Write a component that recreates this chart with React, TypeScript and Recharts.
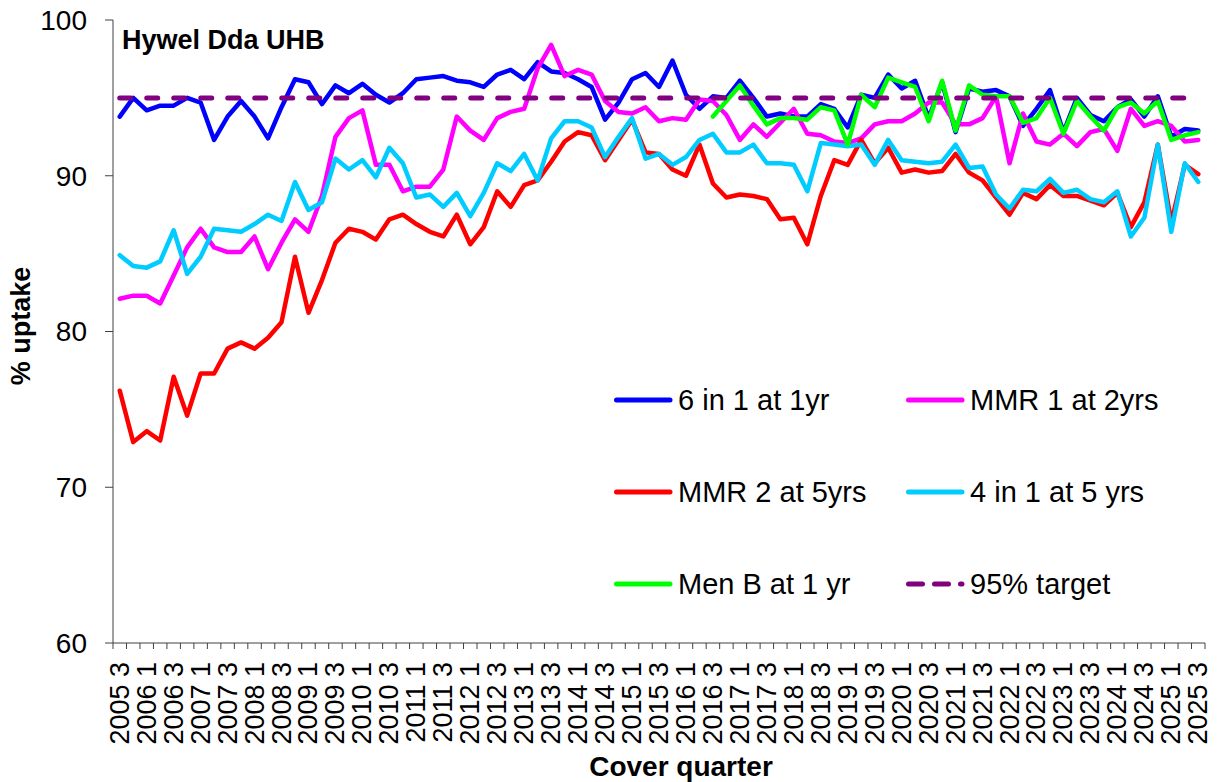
import { LineChart, Line, XAxis, YAxis } from 'recharts';

// cover quarters, 2005 Q3 .. 2025 Q3
const QUARTERS = [
  '2005 3', '2005 4',
  '2006 1', '2006 2', '2006 3', '2006 4',
  '2007 1', '2007 2', '2007 3', '2007 4',
  '2008 1', '2008 2', '2008 3', '2008 4',
  '2009 1', '2009 2', '2009 3', '2009 4',
  '2010 1', '2010 2', '2010 3', '2010 4',
  '2011 1', '2011 2', '2011 3', '2011 4',
  '2012 1', '2012 2', '2012 3', '2012 4',
  '2013 1', '2013 2', '2013 3', '2013 4',
  '2014 1', '2014 2', '2014 3', '2014 4',
  '2015 1', '2015 2', '2015 3', '2015 4',
  '2016 1', '2016 2', '2016 3', '2016 4',
  '2017 1', '2017 2', '2017 3', '2017 4',
  '2018 1', '2018 2', '2018 3', '2018 4',
  '2019 1', '2019 2', '2019 3', '2019 4',
  '2020 1', '2020 2', '2020 3', '2020 4',
  '2021 1', '2021 2', '2021 3', '2021 4',
  '2022 1', '2022 2', '2022 3', '2022 4',
  '2023 1', '2023 2', '2023 3', '2023 4',
  '2024 1', '2024 2', '2024 3', '2024 4',
  '2025 1', '2025 2', '2025 3',
];

const SIX_IN_1 = [
  93.8, 95.0, 94.2, 94.5, 94.5, 95.0, 94.7, 92.3, 93.8, 94.8,
  93.8, 92.4, 94.4, 96.2, 96.0, 94.6, 95.8, 95.3, 95.9, 95.2,
  94.7, 95.3, 96.2, 96.3, 96.4, 96.1, 96.0, 95.7, 96.5, 96.8,
  96.2, 97.3, 96.7, 96.6, 96.2, 95.7, 93.6, 94.7, 96.2, 96.6,
  95.7, 97.4, 95.2, 94.3, 95.1, 95.0, 96.1, 95.0, 93.8, 94.0,
  93.8, 93.8, 94.6, 94.3, 93.1, 95.2, 95.0, 96.5, 95.6, 96.1,
  93.7, 96.0, 92.8, 95.6, 95.4, 95.5, 95.1, 93.2, 94.3, 95.5,
  92.8, 95.0, 93.9, 93.5, 94.4, 94.9, 93.8, 95.1, 92.5, 93.0,
  92.9,
];

const MMR_1 = [
  82.1, 82.3, 82.3, 81.8, 83.6, 85.4, 86.6, 85.4, 85.1, 85.1,
  86.1, 84.0, 85.7, 87.2, 86.4, 88.7, 92.5, 93.7, 94.2, 90.7,
  90.7, 89.0, 89.3, 89.3, 90.4, 93.8, 92.9, 92.3, 93.7, 94.1,
  94.3, 96.9, 98.4, 96.4, 96.8, 96.5, 94.8, 94.1, 94.0, 94.4,
  93.5, 93.7, 93.6, 94.9, 94.8, 93.9, 92.3, 93.3, 92.5, 93.4,
  94.3, 92.7, 92.6, 92.2, 92.1, 92.4, 93.3, 93.5, 93.5, 94.0,
  94.7, 94.7, 93.3, 93.3, 93.7, 95.1, 90.8, 94.0, 92.2, 92.0,
  92.7, 91.9, 92.8, 93.0, 91.6, 94.3, 93.2, 93.5, 93.2, 92.2,
  92.3,
];

const MMR_2 = [
  76.2, 72.9, 73.6, 73.0, 77.1, 74.6, 77.3, 77.3, 78.9, 79.3,
  78.9, 79.6, 80.6, 84.8, 81.2, 83.3, 85.7, 86.6, 86.4, 85.9,
  87.2, 87.5, 86.9, 86.4, 86.1, 87.5, 85.6, 86.7, 89.0, 88.0,
  89.4, 89.7, 90.9, 92.2, 92.8, 92.6, 91.0, 92.3, 93.6, 91.5,
  91.4, 90.4, 90.0, 92.0, 89.5, 88.6, 88.8, 88.7, 88.5, 87.2,
  87.3, 85.6, 88.7, 91.0, 90.7, 92.3, 90.8, 91.8, 90.2, 90.4,
  90.2, 90.3, 91.4, 90.2, 89.7, 88.6, 87.5, 88.9, 88.5, 89.4,
  88.7, 88.7, 88.4, 88.1, 88.9, 86.7, 88.3, 92.0, 87.0, 90.7,
  90.1,
];

const FOUR_IN_1 = [
  84.9, 84.2, 84.1, 84.5, 86.5, 83.7, 84.8, 86.6, 86.5, 86.4,
  86.9, 87.5, 87.1, 89.6, 87.8, 88.3, 91.1, 90.4, 91.0, 89.9,
  91.8, 90.8, 88.6, 88.8, 88.0, 88.9, 87.4, 88.9, 90.8, 90.3,
  91.4, 89.7, 92.4, 93.5, 93.5, 93.1, 91.2, 92.5, 93.7, 91.1,
  91.4, 90.7, 91.2, 92.3, 92.7, 91.5, 91.5, 92.0, 90.8, 90.8,
  90.7, 89.0, 92.1, 92.0, 91.9, 92.0, 90.7, 92.3, 91.0, 90.9,
  90.8, 90.9, 92.0, 90.5, 90.6, 88.8, 87.9, 89.1, 89.0, 89.8,
  88.9, 89.1, 88.5, 88.3, 89.0, 86.1, 87.3, 92.0, 86.4, 90.8,
  89.6,
];

// Men B reporting starts 2016 Q3
const MEN_B = [
  null, null, null, null, null, null, null, null, null, null, null,
  null, null, null, null, null, null, null, null, null, null, null,
  null, null, null, null, null, null, null, null, null, null, null,
  null, null, null, null, null, null, null, null, null, null, null,
  93.8, 94.8, 95.8, 94.5, 93.3, 93.7, 93.7, 93.6, 94.4, 94.2,
  92.0, 95.2, 94.4, 96.3, 96.0, 95.7, 93.5, 96.1, 92.9, 95.8,
  95.2, 95.1, 95.1, 93.4, 93.7, 95.0, 92.7, 94.8, 93.8, 92.9,
  94.4, 94.7, 94.0, 94.8, 92.3, 92.6, 92.8,
];

const TARGET = 95;
const Y_TICKS = [60, 70, 80, 90, 100];

const SERIES = [
  { key: 'sixIn1', name: '6 in 1 at 1yr', color: '#0000FF' },
  { key: 'mmr1', name: 'MMR 1 at 2yrs', color: '#FF00FF' },
  { key: 'mmr2', name: 'MMR 2 at 5yrs', color: '#FF0000' },
  { key: 'fourIn1', name: '4 in 1 at 5 yrs', color: '#00CCFF' },
  { key: 'menB', name: 'Men B at 1 yr', color: '#00FF00' },
  { key: 'target', name: '95% target', color: '#800080', dashed: true },
];

const FONT = '"Liberation Sans", Arial, sans-serif';
const AXIS = '#404040';

const data = QUARTERS.map((q, i) => ({
  i,
  q,
  sixIn1: SIX_IN_1[i],
  mmr1: MMR_1[i],
  mmr2: MMR_2[i],
  fourIn1: FOUR_IN_1[i],
  menB: MEN_B[i],
  target: TARGET,
}));

// tick marks sit between quarters, labels on every other quarter
const xTicks: number[] = [];
for (let k = 0; k <= QUARTERS.length; k++) {
  xTicks.push(k - 0.5);
  if (k < QUARTERS.length && k % 2 === 0) xTicks.push(k);
}

function QuarterTick(props: any) {
  const { x, y, payload } = props;
  const v = payload.value;
  if (!Number.isInteger(v)) {
    return <line x1={x} y1={y - 6} x2={x} y2={y} stroke={AXIS} strokeWidth={1} />;
  }
  const ty = y + 13;
  return (
    <text x={x} y={ty} transform={`rotate(-90 ${x} ${ty})`} textAnchor="end"
      dominantBaseline="central" fontSize={27} fontFamily={FONT} fill="#000">
      {QUARTERS[v]}
    </text>
  );
}

const LEGEND_COLS = [614, 906];
const LEGEND_ROWS = [400, 492, 584];

export default function App() {
  return (
    <div style={{ position: 'absolute', left: 0, top: 0, width: 1217, height: 782, background: '#fff' }}>
      <LineChart width={1217} height={782} data={data}
        margin={{ top: 20, right: 12, bottom: 0, left: 0 }}>
        <XAxis dataKey="i" type="number" domain={[-0.5, QUARTERS.length - 0.5]} ticks={xTicks}
          interval={0} height={139} tickSize={6} tickMargin={0} tickLine={false}
          axisLine={{ stroke: AXIS }} tick={QuarterTick} />
        <YAxis type="number" domain={[60, 100]} ticks={Y_TICKS} interval={0} width={113}
          tickSize={8} tickMargin={18} axisLine={{ stroke: AXIS }} tickLine={{ stroke: AXIS }}
          tick={{ fontSize: 28, fill: '#000', fontFamily: FONT }} />
        {SERIES.map(s => (
          <Line key={s.key} type="linear" dataKey={s.key} name={s.name} stroke={s.color}
            strokeWidth={s.dashed ? 5 : 4.5} strokeDasharray={s.dashed ? '11 16' : undefined}
            strokeLinecap="round" strokeLinejoin="round" dot={false} activeDot={false}
            connectNulls={false} isAnimationActive={false} />
        ))}
      </LineChart>
      <svg width={1217} height={782} style={{ position: 'absolute', left: 0, top: 0, pointerEvents: 'none' }}
        fontFamily={FONT}>
        <text x={122} y={49} fontSize={27} fontWeight="bold" fill="#000">Hywel Dda UHB</text>
        <text x={30} y={326} transform="rotate(-90 30 326)" textAnchor="middle" fontSize={27}
          fontWeight="bold" fill="#000">% uptake</text>
        <text x={681} y={776} textAnchor="middle" fontSize={28} fontWeight="bold" fill="#000">Cover quarter</text>
        {SERIES.map((s, idx) => {
          const lx = LEGEND_COLS[idx % 2];
          const ly = LEGEND_ROWS[Math.floor(idx / 2)];
          return (
            <g key={s.key}>
              <line x1={lx + 2.5} y1={ly} x2={lx + 56} y2={ly} stroke={s.color} strokeWidth={5}
                strokeLinecap="round" strokeDasharray={s.dashed ? '14 12' : undefined} />
              <text x={lx + 64} y={ly + 10} fontSize={29} fill="#000">{s.name}</text>
            </g>
          );
        })}
      </svg>
    </div>
  );
}
